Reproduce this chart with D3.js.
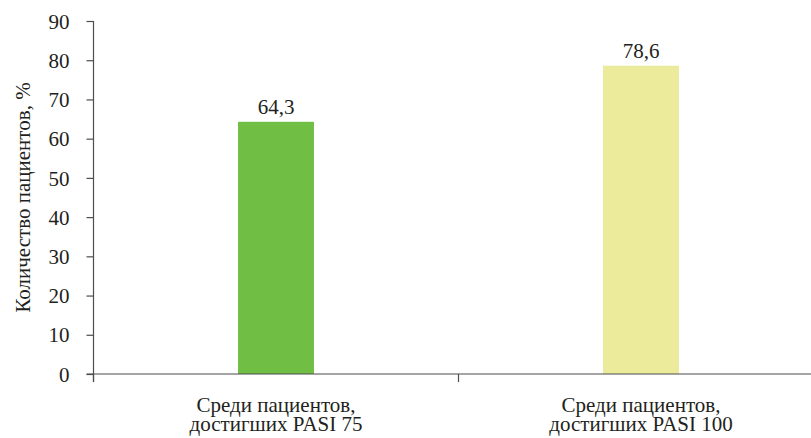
<!DOCTYPE html>
<html>
<head>
<meta charset="utf-8">
<script src="https://cdn.jsdelivr.net/npm/d3@7/dist/d3.min.js"></script>
<style>
  html, body { margin: 0; padding: 0; background: #fff; }
  svg { display: block; }
  svg text { font-family: "Liberation Serif", "DejaVu Serif", "Times New Roman", serif; }
</style>
</head>
<body>
<svg id="chart" width="811" height="438"></svg>
<script>
// Share of patients reaching each PASI threshold
const categories = [
  ["Среди пациентов,", "достигших PASI 75"],
  ["Среди пациентов,", "достигших PASI 100"]
];
const values = [64.3, 78.6];
const valueLabels = ["64,3", "78,6"];
const barColors = ["#70bf44", "#ebeb9b"];
const yTicks = [0, 10, 20, 30, 40, 50, 60, 70, 80, 90];
const yTitle = "Количество пациентов, %";

const INK = "#231f20";
const AXIS = "#4d4d4d";
const FS = 21;

const svg = d3.select("#chart");
const margin = { left: 93.5, top: 21, right: -12.5, bottom: 64 };
const width = 811 - margin.left - margin.right;
const height = 438 - margin.top - margin.bottom;

const g = svg.append("g").attr("transform", `translate(${margin.left},${margin.top})`);

const x = d3.scaleBand().domain(d3.range(categories.length)).range([0, width]).paddingInner(0).paddingOuter(0);
const y = d3.scaleLinear().domain([0, 90]).range([height, 0]);

const barW = x.bandwidth() * 0.208;

// bars
g.selectAll("rect.bar").data(values).join("rect")
  .attr("class", "bar")
  .attr("x", (d, i) => x(i) + x.bandwidth() / 2 - barW / 2)
  .attr("y", d => y(d))
  .attr("width", barW)
  .attr("height", d => y(0) - y(d))
  .attr("fill", (d, i) => barColors[i]);

// value labels
g.selectAll("text.val").data(values).join("text")
  .attr("class", "val")
  .attr("x", (d, i) => x(i) + x.bandwidth() / 2)
  .attr("y", d => y(d) - 8)
  .attr("text-anchor", "middle")
  .attr("font-size", FS)
  .attr("fill", INK)
  .text((d, i) => valueLabels[i]);

// y axis
const yAxis = g.append("g")
  .call(d3.axisLeft(y).tickValues(yTicks).tickSize(7).tickPadding(17).tickSizeOuter(0));
yAxis.attr("font-size", FS).attr("font-family", null);
yAxis.select(".domain").attr("stroke", AXIS).attr("stroke-width", 1.2)
  .attr("d", `M0,${y(90)}V${height + 8}`);
yAxis.selectAll(".tick line").attr("stroke", AXIS).attr("stroke-width", 1.2);
yAxis.selectAll(".tick text").attr("fill", INK).attr("dy", "0.34em");

// x axis baseline, extended left to meet the zero tick
g.append("line")
  .attr("x1", -7).attr("x2", width)
  .attr("y1", y(0)).attr("y2", y(0))
  .attr("stroke", AXIS).attr("stroke-width", 1.2);

// category separators below the baseline
g.selectAll("line.sep").data(d3.range(categories.length + 1)).join("line")
  .attr("class", "sep")
  .attr("x1", i => i * x.bandwidth()).attr("x2", i => i * x.bandwidth())
  .attr("y1", y(0)).attr("y2", y(0) + 8)
  .attr("stroke", AXIS).attr("stroke-width", 1.2);

// category labels, two lines each
const cat = g.selectAll("text.cat").data(categories).join("text")
  .attr("class", "cat")
  .attr("text-anchor", "middle")
  .attr("font-size", FS)
  .attr("fill", INK)
  .attr("transform", (d, i) => `translate(${x(i) + x.bandwidth() / 2},${height + 38})`);
cat.selectAll("tspan").data(d => d).join("tspan")
  .attr("x", 0)
  .attr("dy", (d, j) => j === 0 ? 0 : 19)
  .text(d => d);

// y axis title
svg.append("text")
  .attr("transform", `translate(30,${margin.top + height / 2}) rotate(-90)`)
  .attr("text-anchor", "middle")
  .attr("font-size", FS)
  .attr("fill", INK)
  .text(yTitle);
</script>
</body>
</html>
